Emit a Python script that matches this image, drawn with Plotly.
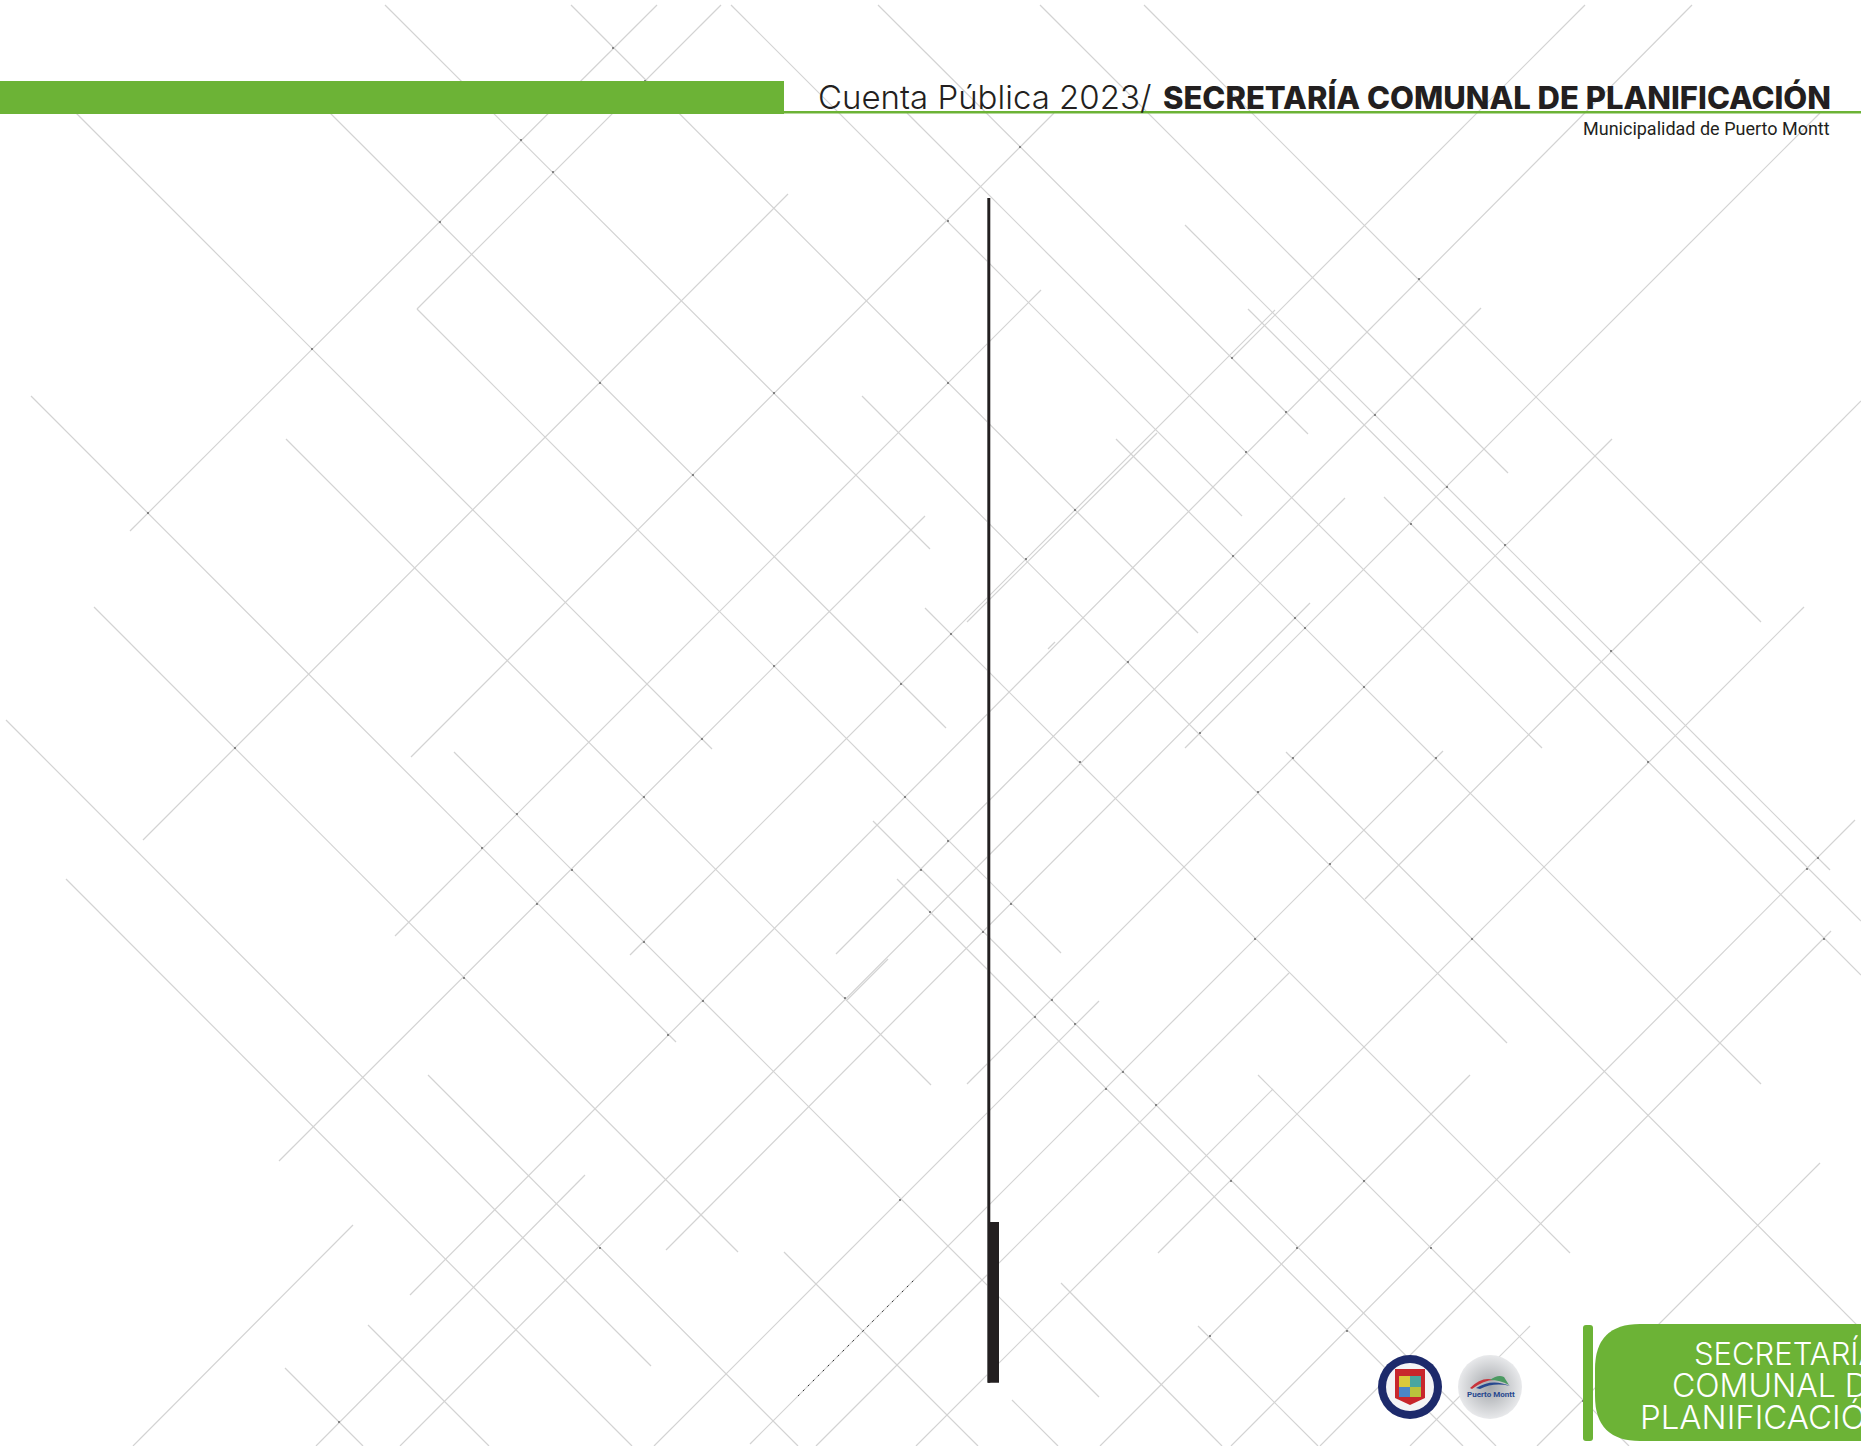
import plotly.graph_objects as go

PAGE_W = 1861
PAGE_H = 1446

# background line segments: x0, y0, x1, y1
falling_lines = [
    (385, 5, 930, 549), (571, 5, 1198, 633), (731, 5, 1242, 516), (878, 5, 1308, 434),
    (1040, 5, 1508, 473), (1144, 5, 1761, 622), (60, 97, 712, 749), (314, 97, 946, 728),
    (417, 309, 1061, 953), (31, 396, 676, 1042), (286, 439, 931, 1085), (94, 607, 738, 1252),
    (6, 720, 651, 1366), (66, 879, 632, 1446), (428, 1075, 798, 1446), (454, 752, 1099, 1397),
    (784, 1252, 978, 1446), (368, 1325, 489, 1446), (285, 1368, 363, 1446), (873, 821, 1496, 1446),
    (897, 879, 1463, 1446), (907, 113, 1542, 748), (862, 396, 1507, 1043), (925, 608, 1570, 1253),
    (1116, 439, 1761, 1084), (1185, 225, 1830, 870), (1248, 309, 1861, 921), (1384, 497, 1861, 975),
    (1286, 752, 1861, 1329), (1258, 1075, 1629, 1446), (1061, 1283, 1222, 1446),
    (1012, 1400, 1058, 1446), (1198, 1326, 1318, 1446),
]
rising_lines = [
    (417, 309, 721, 5), (130, 531, 657, 5), (143, 840, 788, 194), (411, 757, 1054, 113),
    (279, 1161, 925, 516), (395, 936, 1041, 290), (630, 955, 1275, 310), (1232, 358, 1585, 5),
    (967, 622, 1157, 433), (410, 1295, 1692, 5), (1048, 649, 1055, 642), (836, 954, 1481, 308),
    (750, 1444, 1443, 751), (1365, 899, 1861, 401), (1185, 748, 1820, 113), (967, 1084, 1612, 439),
    (1158, 1253, 1804, 607), (1231, 1446, 1855, 820), (1320, 1446, 1831, 931), (1537, 1446, 1820, 1163),
    (816, 1446, 1289, 973), (654, 1446, 1099, 1001), (400, 1446, 1345, 498), (847, 1000, 888, 959),
    (666, 1250, 1310, 603), (316, 1446, 585, 1175), (133, 1446, 353, 1225), (1410, 1446, 1530, 1326),
    (1100, 1446, 1470, 1075), (916, 1446, 1273, 1089),
]
dashed_line = (798, 1396, 914, 1280)

# small dark specks where lines cross
speck_x = [613, 645, 521, 553, 440, 312, 600, 774, 693, 148, 774, 901, 1020, 948, 948, 1232, 1286, 1246, 1375,
           1075, 1026, 1233, 1447, 1411, 1505, 951, 1295, 1305, 1128, 1364, 1611, 1419, 235, 702, 644, 905, 517,
           482, 572, 921, 537, 644, 703, 845, 464, 668, 900, 600, 339, 1080, 948, 1258, 1330, 1255, 1472, 1011,
           930, 983, 1052, 1035, 1075, 1123, 1106, 1156, 1231, 1297, 1364, 1431, 1347, 1210, 1583, 1807, 1818,
           1824, 1200, 1293, 1436, 1648]
speck_y = [48, 81, 140, 172, 222, 349, 383, 393, 475, 513, 666, 684, 147, 221, 383, 358, 412, 452, 415,
           510, 559, 556, 487, 524, 545, 634, 618, 628, 662, 687, 651, 279, 748, 739, 797, 797, 814,
           848, 870, 870, 904, 942, 1001, 998, 978, 1035, 1200, 1248, 1422, 762, 841, 792, 864, 939, 939, 904,
           912, 932, 1000, 1017, 1024, 1072, 1089, 1105, 1181, 1248, 1181, 1248, 1331, 1336, 1401, 869, 858,
           939, 733, 758, 758, 762]

title_light = "Cuenta Pública 2023/"
title_bold = "SECRETARÍA COMUNAL DE PLANIFICACIÓN"
subtitle = "Municipalidad de Puerto Montt"
box_lines = ["SECRETARÍA", "COMUNAL DE", "PLANIFICACIÓN"]
box_line_x = [1692, 1670, 1638]
box_line_y = [1353, 1385, 1417]
box_line_size = [31, 32, 33]

GREEN = "#6cb336"
DARK = "#231f20"
LINE_GRAY = "#d3d3d3"


def segments(lines):
    xs, ys = [], []
    for x0, y0, x1, y1 in lines:
        xs += [x0, x1, None]
        ys += [y0, y1, None]
    return xs, ys


fig = go.Figure()

xs, ys = segments(falling_lines + rising_lines)
fig.add_trace(go.Scatter(x=xs, y=ys, mode="lines", line=dict(color=LINE_GRAY, width=1.2),
                         hoverinfo="skip", showlegend=False))
fig.add_trace(go.Scatter(x=speck_x, y=speck_y, mode="markers",
                         marker=dict(size=2, color="#666666", line=dict(width=0)),
                         hoverinfo="skip", showlegend=False))
fig.add_trace(go.Scatter(x=[dashed_line[0], dashed_line[2]], y=[dashed_line[1], dashed_line[3]], mode="lines",
                         line=dict(color="#333333", width=1, dash="2px 5px"),
                         hoverinfo="skip", showlegend=False))
# silver ball behind the Puerto Montt logo
fig.add_trace(go.Scatter(x=[1490], y=[1387], mode="markers",
                         marker=dict(size=64, color="#e8e9eb", line=dict(width=0),
                                     gradient=dict(type="radial", color="#a4a7ab")),
                         hoverinfo="skip", showlegend=False))

shapes = [
    # header
    dict(type="rect", x0=0, x1=784, y0=81, y1=114, fillcolor=GREEN, line_width=0),
    dict(type="rect", x0=784, x1=PAGE_W, y0=111, y1=113.4, fillcolor=GREEN, line_width=0),
    # centre rule
    dict(type="rect", x0=987, x1=988, y0=198, y1=1382.7, fillcolor="#666666", line_width=0),
    dict(type="rect", x0=988, x1=990.3, y0=198, y1=1382.7, fillcolor=DARK, line_width=0),
    dict(type="rect", x0=988, x1=999, y0=1222, y1=1382.7, fillcolor=DARK, line_width=0),
    # footer tab
    dict(type="path", path="M 1586 1325 L 1590 1325 Q 1593 1325 1593 1328 L 1593 1438 Q 1593 1441 1590 1441 "
                           "L 1586 1441 Q 1583 1441 1583 1438 L 1583 1328 Q 1583 1325 1586 1325 Z",
         fillcolor=GREEN, line_width=0),
    dict(type="path", path="M 1640 1324 L 1861 1324 L 1861 1441 L 1640 1441 Q 1595 1441 1595 1396 "
                           "L 1595 1369 Q 1595 1324 1640 1324 Z", fillcolor=GREEN, line_width=0),
    # municipal crest
    dict(type="circle", x0=1378, x1=1442, y0=1355, y1=1419, fillcolor="#1d2a6b", line_width=0),
    dict(type="circle", x0=1386, x1=1434, y0=1363, y1=1411, fillcolor="#f4f4f6", line_width=0),
    dict(type="path", path="M 1395 1369 L 1425 1369 L 1425 1398 L 1410 1405 L 1395 1398 Z",
         fillcolor="#c8262c", line_width=0),
    dict(type="rect", x0=1399, x1=1410, y0=1376, y1=1387, fillcolor="#d9c93c", line_width=0),
    dict(type="rect", x0=1410, x1=1421, y0=1376, y1=1387, fillcolor="#4aa6a0", line_width=0),
    dict(type="rect", x0=1399, x1=1410, y0=1387, y1=1397, fillcolor="#4a86c8", line_width=0),
    dict(type="rect", x0=1410, x1=1421, y0=1387, y1=1397, fillcolor="#b9c23c", line_width=0),
    # Puerto Montt swoosh
    dict(type="path", path="M 1470 1388 Q 1482 1376 1494 1380 Q 1484 1380 1472 1389 Z", fillcolor="#c8343c", line_width=0),
    dict(type="path", path="M 1476 1388 Q 1492 1378 1510 1386 Q 1494 1382 1480 1389 Z", fillcolor="#27488f", line_width=0),
    dict(type="path", path="M 1490 1380 Q 1498 1374 1504 1377 L 1509 1385 Q 1500 1380 1490 1380 Z", fillcolor="#4b9a62", line_width=0),
]

annotations = [
    dict(x=816, y=97, text=title_light, xanchor="left", yanchor="middle", showarrow=False,
         font=dict(family="Inter", size=33, color=DARK, weight=300)),
    dict(x=1833, y=97, text=title_bold, xanchor="right", yanchor="middle", showarrow=False,
         font=dict(family="Inter", size=31, color=DARK, weight=800)),
    dict(x=1832, y=128, text=subtitle, xanchor="right", yanchor="middle", showarrow=False,
         font=dict(family="Roboto", size=18, color=DARK)),
    dict(x=1491, y=1394, text="<b>Puerto Montt</b>", xanchor="center", yanchor="middle", showarrow=False,
         font=dict(family="Roboto", size=8, color="#27488f")),
]
for line, lx, ly, ls in zip(box_lines, box_line_x, box_line_y, box_line_size):
    annotations.append(dict(x=lx, y=ly, text=line, xanchor="left", yanchor="middle", showarrow=False,
                            font=dict(family="Inter", size=ls, color="white", weight=300)))

fig.update_layout(
    width=PAGE_W, height=PAGE_H,
    margin=dict(l=0, r=0, t=0, b=0),
    paper_bgcolor="white", plot_bgcolor="white",
    showlegend=False,
    xaxis=dict(visible=False, range=[0, PAGE_W], fixedrange=True),
    yaxis=dict(visible=False, range=[PAGE_H, 0], fixedrange=True),
    shapes=shapes, annotations=annotations,
)

fig.write_html("out.html", config=dict(displayModeBar=False),
               post_script="document.body.style.margin='0';document.body.style.overflow='hidden';")
